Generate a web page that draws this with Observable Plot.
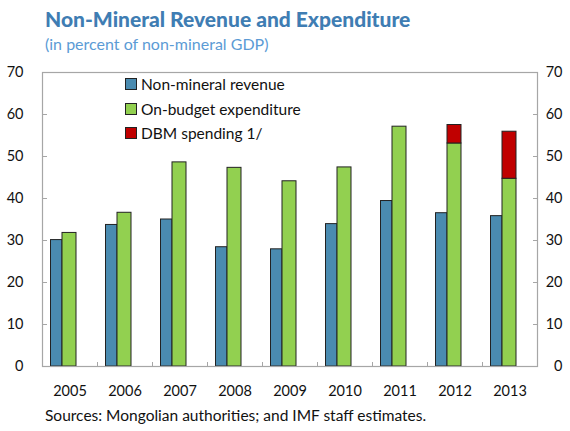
<!DOCTYPE html>
<html>
<head>
<meta charset="utf-8">
<script src="https://cdn.jsdelivr.net/npm/d3@7"></script>
<script src="https://cdn.jsdelivr.net/npm/@observablehq/plot@0.6"></script>
<style>
  html, body { margin: 0; padding: 0; background: #fff; }
  #wrap { position: relative; width: 570px; height: 431px; overflow: hidden; font-family: Lato, sans-serif; }
  #title { position: absolute; left: 45px; top: 6px; font-size: 21px; font-weight: 900; color: #3f7db3; white-space: nowrap; }
  #subtitle { position: absolute; left: 45px; top: 34px; font-size: 16px; color: #5b9bd5; white-space: nowrap; }
  #chart { position: absolute; left: 0; top: 58px; }
  #caption { position: absolute; left: 45px; top: 406px; font-size: 15.5px; color: #111; white-space: nowrap; }
  #legend { position: absolute; left: 125px; top: 72px; font-size: 15.5px; color: #111; }
  .row { display: flex; align-items: center; height: 24.5px; white-space: nowrap; }
  .sw { width: 10px; height: 10px; border: 1px solid #222; margin-right: 4px; }
</style>
</head>
<body>
<div id="wrap">
  <div id="title">Non-Mineral Revenue and Expenditure</div>
  <div id="subtitle">(in percent of non-mineral GDP)</div>
  <div id="chart"></div>
  <div id="legend"></div>
  <div id="caption">Sources: Mongolian authorities; and IMF staff estimates.</div>
</div>
<script>
const years = ["2005","2006","2007","2008","2009","2010","2011","2012","2013"];
const revenue = [30.1, 33.7, 35.0, 28.4, 27.9, 33.9, 39.4, 36.5, 35.8];
const expenditure = [31.8, 36.6, 48.6, 47.3, 44.1, 47.4, 57.1, 53.1, 44.7];
const dbm = [0, 0, 0, 0, 0, 0, 0, 4.4, 11.2];
const seriesNames = ["Non-mineral revenue", "On-budget expenditure", "DBM spending 1/"];
const seriesColors = ["#4a8bb0", "#92d050", "#c00000"];
const yTicks = [0, 10, 20, 30, 40, 50, 60, 70];

const rows = years.map((y, i) => ({year: y, rev: revenue[i], exp: expenditure[i], dbm: dbm[i], top: expenditure[i] + dbm[i]}));
const grey = "#a6a6a6";

const chart = Plot.plot({
  width: 570,
  height: 344,
  marginTop: 14,
  marginBottom: 36,
  marginLeft: 42,
  marginRight: 33,
  style: {fontFamily: "Lato, sans-serif", fontSize: "14.5px", color: "#111", background: "transparent"},
  x: {domain: years, padding: 0, axis: null, label: null},
  y: {domain: [0, 70], axis: null, label: null},
  marks: [
    Plot.barY(rows, {x: "year", y: "rev", fill: seriesColors[0], stroke: "#222", strokeWidth: 1, insetLeft: 8.5, insetRight: 35}),
    Plot.barY(rows, {x: "year", y: "exp", fill: seriesColors[1], stroke: "#222", strokeWidth: 1, insetLeft: 20, insetRight: 21}),
    Plot.barY(rows.filter(d => d.dbm > 0), {x: "year", y1: "exp", y2: "top", fill: seriesColors[2], stroke: "#222", strokeWidth: 1, insetLeft: 20, insetRight: 21}),
    Plot.frame({stroke: grey, strokeWidth: 1.2}),
    Plot.axisY({anchor: "left", ticks: yTicks.slice(1, -1), tickSize: -5, text: null, stroke: grey, label: null}),
    Plot.axisY({anchor: "right", ticks: yTicks.slice(1, -1), tickSize: -5, text: null, stroke: grey, label: null}),
    Plot.axisY({anchor: "left", ticks: yTicks, tickSize: 0, tickPadding: 19, fill: "#111", label: null}),
    Plot.axisY({anchor: "right", ticks: yTicks, tickSize: 0, tickPadding: 25, textAnchor: "end", fill: "#111", label: null}),
    Plot.axisX({anchor: "bottom", tickSize: -4, text: null, dx: -27.5, stroke: grey, label: null}),
    Plot.axisX({anchor: "bottom", tickSize: 0, tickPadding: 19, fill: "#111", label: null})
  ]
});
document.getElementById("chart").appendChild(chart);

const legend = document.getElementById("legend");
seriesNames.forEach((name, i) => {
  const r = document.createElement("div");
  r.className = "row";
  const s = document.createElement("span");
  s.className = "sw";
  s.style.background = seriesColors[i];
  const t = document.createElement("span");
  t.textContent = name;
  r.appendChild(s); r.appendChild(t);
  legend.appendChild(r);
});
</script>
</body>
</html>
